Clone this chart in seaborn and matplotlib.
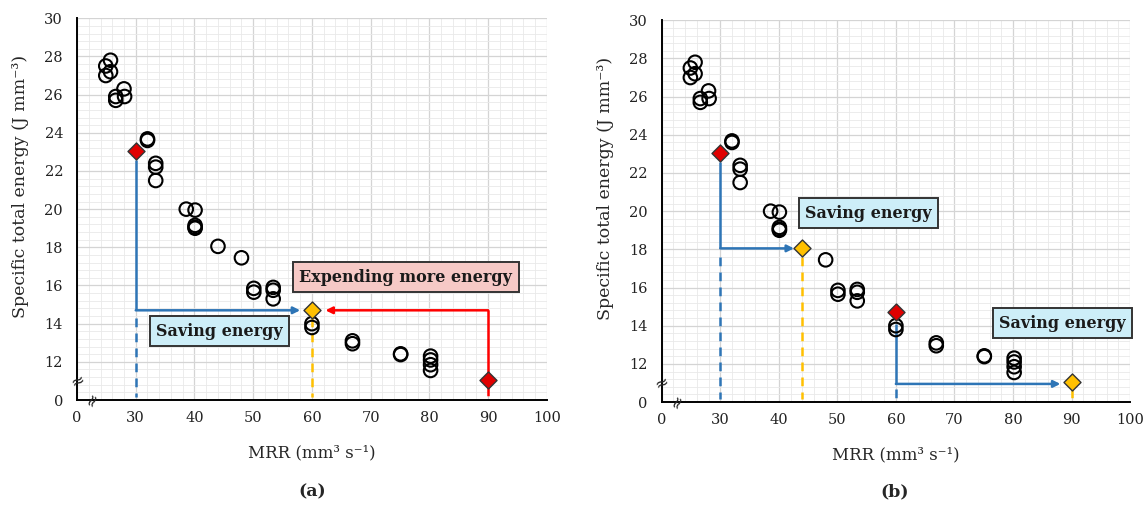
import numpy as np
import pandas as pd
import matplotlib
matplotlib.use("Agg")
import matplotlib.pyplot as plt
import seaborn as sns

# ---------------- data ----------------
mrr_circles = [25.7, 24.9, 25.7, 24.9, 28.0, 26.6, 28.1, 26.6, 32.0, 32.0,
               33.4, 33.4, 33.4, 38.6, 40.1, 40.1, 40.1, 40.1, 44.0, 48.0,
               50.1, 50.1, 53.4, 53.4, 53.4, 60.0, 60.0, 66.9, 66.9, 75.1,
               75.1, 80.2, 80.2, 80.2, 80.2]
ste_circles = [27.8, 27.5, 27.2, 27.0, 26.3, 25.9, 25.9, 25.7, 23.68, 23.6,
               22.4, 22.2, 21.5, 20.0, 19.95, 19.15, 19.05, 19.0, 18.05, 17.45,
               15.85, 15.65, 15.9, 15.75, 15.3, 14.0, 13.8, 13.1, 12.95, 12.42,
               12.38, 12.3, 12.1, 11.85, 11.55]

# panel (a)
a_red_x = [30, 90]
a_red_y = [23.05, 11.05]
a_yel_x = [60]
a_yel_y = [14.7]
# panel (b)
b_red_x = [30, 60]
b_red_y = [23.05, 14.7]
b_yel_x = [44, 90]
b_yel_y = [18.05, 11.05]

x_ticks = [20, 30, 40, 50, 60, 70, 80, 90, 100]
x_ticklabels = ["0", "30", "40", "50", "60", "70", "80", "90", "100"]
y_ticks = [10, 12, 14, 16, 18, 20, 22, 24, 26, 28, 30]
y_ticklabels = ["0", "12", "14", "16", "18", "20", "22", "24", "26", "28", "30"]

# ---------------- style ----------------
sns.set_theme(style="white")
plt.rcParams["font.family"] = ["DejaVu Serif"]

BLUE = "#2e75b6"
RED = "#ff0000"
YEL = "#ffc000"
REDFILL = "#e00000"

fig = plt.figure(figsize=(11.46, 5.07), dpi=100)
ax_a = fig.add_axes([0.0672, 0.211, 0.410, 0.753])
ax_b = fig.add_axes([0.5774, 0.207, 0.4087, 0.753])

circ_df = pd.DataFrame({"MRR": mrr_circles, "STE": ste_circles})


def base(ax, hide_x=(), hide_y=()):
    ax.set_xlim(20, 100)
    ax.set_ylim(10, 30)
    ax.set_xticks(x_ticks)
    ax.set_xticklabels(x_ticklabels)
    ax.set_yticks(y_ticks)
    ax.set_yticklabels(y_ticklabels)
    ax.set_xticks(np.arange(20, 100.1, 2), minor=True)
    ax.set_yticks(np.arange(10, 30.01, 0.4), minor=True)
    ax.grid(which="major", color="#d4d4d4", lw=0.9)
    ax.grid(which="minor", color="#e9e9e9", lw=0.6)
    ax.set_axisbelow(True)
    for s in ["top", "right"]:
        ax.spines[s].set_visible(False)
    for s in ["left", "bottom"]:
        ax.spines[s].set_color("black")
        ax.spines[s].set_linewidth(1.4)
    ax.tick_params(which="both", length=0)
    ax.tick_params(axis="y", pad=10, labelsize=10.5, colors="#222222")
    ax.tick_params(axis="x", pad=8, labelsize=10.5, colors="#222222")
    ax.set_xlabel("MRR (mm\u00b3 s\u207b\u00b9)", fontsize=12)
    ax.set_ylabel("Specific total energy (J mm\u207b\u00b3)", fontsize=12.5)
    ax.yaxis.set_label_coords(-0.102, 0.56)
    ax.xaxis.set_label_coords(0.5, -0.115)
    # axis break marks
    ax.text(20, 11.0, "\u2248", ha="center", va="center", fontsize=12,
            rotation=25, clip_on=False, family="DejaVu Sans")
    ax.text(22.6, 10.0, "\u2248", ha="center", va="center", fontsize=12,
            rotation=65, clip_on=False, family="DejaVu Sans")
    # circles hidden under a highlighted diamond are not drawn
    keep = np.ones(len(circ_df), dtype=bool)
    for hx, hy in zip(hide_x, hide_y):
        keep &= ~((np.abs(circ_df["MRR"] - hx) < 0.5) &
                  (np.abs(circ_df["STE"] - hy) < 0.2))
    sns.scatterplot(data=circ_df[keep], x="MRR", y="STE", ax=ax, marker="o",
                    s=95, facecolor="none", edgecolor="black", linewidth=1.5,
                    zorder=4, legend=False)


def path(ax, x0, y0, x1, y1, color, start_gap, end_gap):
    # vertical from start diamond to target level, then horizontal arrow
    sgn = 1 if y1 > y0 else -1
    ax.plot([x0, x0], [y0 + sgn * start_gap, y1], color=color, lw=1.8,
            solid_capstyle="butt", zorder=3)
    dirx = 1 if x1 > x0 else -1
    ax.annotate("", xy=(x1 - dirx * end_gap, y1), xytext=(x0, y1),
                arrowprops=dict(arrowstyle="-|>", color=color, lw=1.8,
                                mutation_scale=10, shrinkA=0, shrinkB=0),
                zorder=3)


def drop(ax, x, ytop, color):
    ax.plot([x, x], [ytop, 10.15], color=color, lw=1.8, ls=(0, (3.5, 2.5)),
            zorder=3)


def diamonds(ax, xs, ys, fc):
    df = pd.DataFrame({"MRR": xs, "STE": ys})
    sns.scatterplot(data=df, x="MRR", y="STE", ax=ax, marker="D", s=75,
                    color=fc, edgecolor="#333333", linewidth=1.0, zorder=6,
                    legend=False)


def box(ax, x, y, text, fc):
    ax.text(x, y, text, ha="center", va="center", fontsize=11.5,
            fontweight="bold", color="#1a1a1a", zorder=7,
            bbox=dict(boxstyle="square,pad=0.4", fc=fc, ec="#333333", lw=1.4))


# ---------------- panel (a) ----------------
base(ax_a)
path(ax_a, a_red_x[0], a_red_y[0], a_yel_x[0], a_yel_y[0], BLUE, 0.45, 2.0)
path(ax_a, a_red_x[1], a_red_y[1], a_yel_x[0], a_yel_y[0], RED, 0.35, 2.3)
drop(ax_a, a_red_x[0], a_yel_y[0] - 0.4, BLUE)
drop(ax_a, a_yel_x[0], a_yel_y[0] - 0.4, YEL)
drop(ax_a, a_red_x[1], a_red_y[1] - 0.35, RED)
diamonds(ax_a, a_red_x, a_red_y, REDFILL)
diamonds(ax_a, a_yel_x, a_yel_y, YEL)
box(ax_a, 44.3, 13.6, "Saving energy", "#cdeef8")
box(ax_a, 76.0, 16.43, "Expending more energy", "#f6c9c6")

# ---------------- panel (b) ----------------
base(ax_b, hide_x=b_yel_x, hide_y=b_yel_y)
path(ax_b, b_red_x[0], b_red_y[0], b_yel_x[0], b_yel_y[0], BLUE, 0.45, 1.4)
path(ax_b, b_red_x[1], b_red_y[1], b_yel_x[1], b_yel_y[1] - 0.1, BLUE, 0.6, 1.9)
drop(ax_b, b_red_x[0], b_yel_y[0] - 0.45, BLUE)
drop(ax_b, b_yel_x[0], b_yel_y[0] - 0.45, YEL)
drop(ax_b, b_red_x[1], b_yel_y[1] - 0.35, BLUE)
drop(ax_b, b_yel_x[1], b_yel_y[1] - 0.35, YEL)
diamonds(ax_b, b_red_x, b_red_y, REDFILL)
diamonds(ax_b, b_yel_x, b_yel_y, YEL)
box(ax_b, 55.3, 19.9, "Saving energy", "#cdeef8")
box(ax_b, 88.5, 14.14, "Saving energy", "#cdeef8")

fig.text(0.272, 0.030, "(a)", ha="center", va="center", fontsize=12.5,
         fontweight="bold")
fig.text(0.781, 0.030, "(b)", ha="center", va="center", fontsize=12.5,
         fontweight="bold")

fig.savefig("out.png", dpi=100)
